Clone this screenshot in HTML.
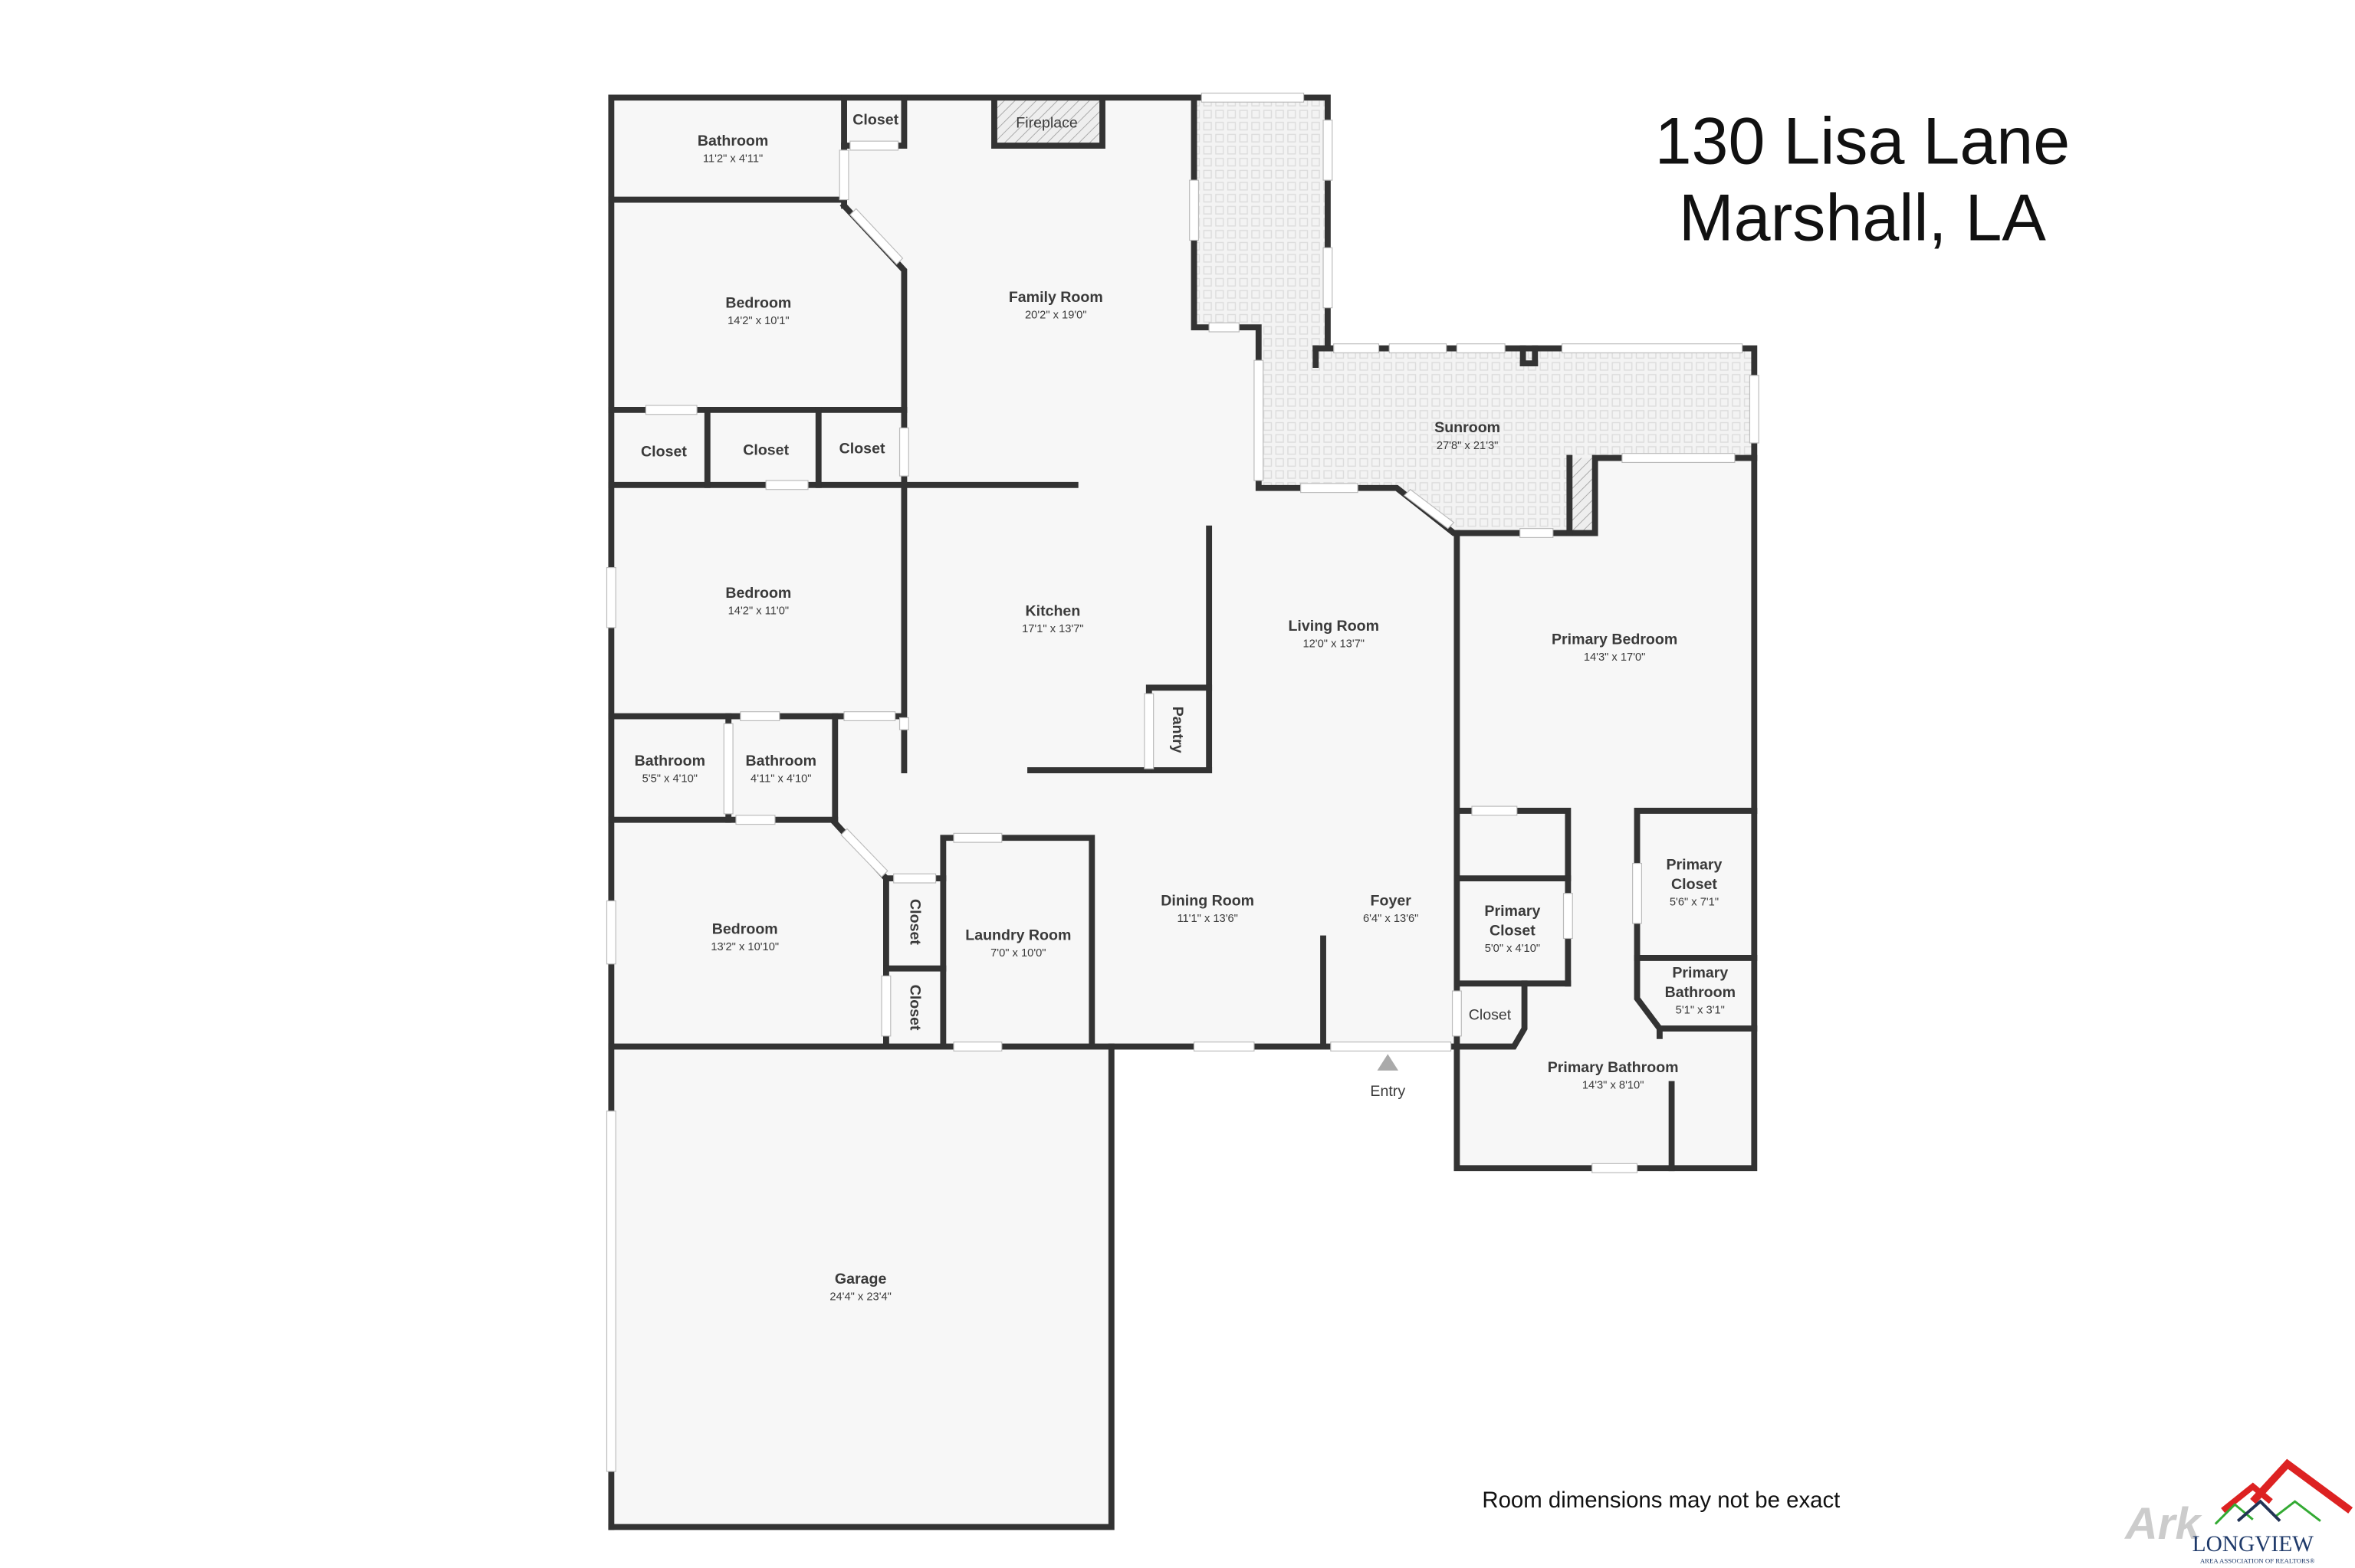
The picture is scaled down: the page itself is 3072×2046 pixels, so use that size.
<!DOCTYPE html>
<html><head><meta charset="utf-8"><style>
html,body{margin:0;padding:0;background:#fff;}
svg{display:block;}
text{font-family:"Liberation Sans",sans-serif;fill:#3a3a3a;text-anchor:middle;}
.n{font-size:10px;font-weight:bold;}
.d{font-size:7.5px;}
</style></head><body>
<svg width="3072" height="2046" viewBox="0 0 1568 1044.3" xmlns="http://www.w3.org/2000/svg">
<defs>
<pattern id="tile" width="8" height="8" patternUnits="userSpaceOnUse">
<rect width="8" height="8" fill="#f3f3f3"/>
<rect x="1.5" y="1.5" width="5" height="5" fill="none" stroke="#dcdcdc" stroke-width="0.7"/>
</pattern>
<pattern id="hatch" width="5" height="5" patternUnits="userSpaceOnUse" patternTransform="rotate(45)">
<rect width="5" height="5" fill="#eee"/><line x1="0" y1="0" x2="0" y2="5" stroke="#aaa" stroke-width="1"/>
</pattern>
</defs>
<rect width="1568" height="1045" fill="#fff"/>
<!-- floors -->
<polygon points="407,65 795,65 795,218 838,218 838,325 930,325 970,355 970,778 1168,778 1168,697 407,697" fill="#f7f7f7"/>
<rect x="970" y="305" width="198" height="473" fill="#f7f7f7"/>
<rect x="407" y="697" width="333" height="320" fill="#f7f7f7"/>
<polygon points="795,65 884,65 884,232 1168,232 1168,305 1062,305 1062,355 968,355 930,325 838,325 838,218 795,218" fill="url(#tile)"/>
<rect x="1045" y="305" width="15" height="48" fill="url(#hatch)"/>
<rect x="662" y="67" width="72" height="30" fill="url(#hatch)"/>

<g stroke="#333" stroke-width="4" fill="none" stroke-linecap="square">
<!-- outer -->
<polyline points="407,65 884,65 884,232"/>
<line x1="407" y1="65" x2="407" y2="1017"/>
<polyline points="407,1017 740,1017 740,697"/>
<polyline points="795,65 795,218 838,218 838,325 930,325 968,355 1062,355 1062,305 1168,305"/>
<polyline points="876,232 1168,232 1168,778 970,778 970,355"/>
<line x1="876" y1="232" x2="876" y2="243"/>
<line x1="1014" y1="232" x2="1014" y2="242"/><line x1="1022" y1="232" x2="1022" y2="242"/><line x1="1014" y1="242" x2="1022" y2="242"/>
<line x1="1045" y1="305" x2="1045" y2="355"/>
<line x1="407" y1="697" x2="970" y2="697"/>
<!-- fireplace -->
<polyline points="662,65 662,97 734,97 734,65"/>
<!-- left rooms -->
<line x1="407" y1="133" x2="562" y2="133"/>
<polyline points="562,65 562,97 602,97 602,65"/>
<line x1="562" y1="97" x2="562" y2="137"/>
<polyline points="562,137 602,180 602,273"/>
<line x1="407" y1="273" x2="602" y2="273"/>
<line x1="602" y1="273" x2="602" y2="323"/>
<line x1="407" y1="323" x2="716" y2="323"/>
<line x1="471" y1="273" x2="471" y2="323"/>
<line x1="545" y1="273" x2="545" y2="323"/>
<line x1="602" y1="323" x2="602" y2="513"/>
<line x1="407" y1="477" x2="600" y2="477"/>
<line x1="485" y1="477" x2="485" y2="546"/>
<line x1="556" y1="477" x2="556" y2="546"/>
<line x1="407" y1="546" x2="556" y2="546"/>
<polyline points="556,548 590,585 590,697"/>
<line x1="590" y1="585" x2="628" y2="585"/>
<line x1="590" y1="645" x2="628" y2="645"/>
<polyline points="628,697 628,558 727,558 727,697"/>
<!-- kitchen -->
<line x1="805" y1="352" x2="805" y2="513"/>
<line x1="686" y1="513" x2="805" y2="513"/>
<polyline points="765,513 765,458 805,458"/>
<line x1="881" y1="625" x2="881" y2="697"/>
<!-- primary -->
<polyline points="970,540 1044,540 1044,585 970,585"/>
<line x1="1044" y1="585" x2="1044" y2="655"/>
<line x1="970" y1="655" x2="1044" y2="655"/>
<polyline points="1015,655 1015,685 1008,697 970,697"/>
<polyline points="1168,540 1090,540 1090,665 1105,685 1105,690"/>
<line x1="1090" y1="638" x2="1168" y2="638"/>
<line x1="1105" y1="685" x2="1168" y2="685"/>
<line x1="1113" y1="722" x2="1113" y2="778"/>
</g>

<!-- openings/windows (white) -->
<g fill="#fff" stroke="#bbb" stroke-width="0.6">
<rect x="800" y="62" width="68" height="6"/>
<rect x="881" y="80" width="6" height="40"/>
<rect x="881" y="165" width="6" height="40"/>
<rect x="792" y="120" width="6" height="40"/>
<rect x="805" y="215" width="20" height="6"/>
<rect x="835" y="240" width="6" height="80"/>
<rect x="888" y="229" width="30" height="6"/>
<rect x="925" y="229" width="38" height="6"/>
<rect x="970" y="229" width="32" height="6"/>
<rect x="1040" y="229" width="120" height="6"/>
<rect x="1165" y="250" width="6" height="45"/>
<rect x="1080" y="302" width="75" height="6"/>
<rect x="866" y="322" width="38" height="6"/>
<rect x="1012" y="352" width="22" height="6"/>
<rect x="566" y="94" width="32" height="6"/>
<rect x="559" y="100" width="6" height="33"/>
<rect x="404" y="378" width="6" height="40"/>
<rect x="404" y="600" width="6" height="42"/>
<rect x="404" y="740" width="6" height="240"/>
<rect x="430" y="270" width="34" height="6"/>
<rect x="510" y="320" width="28" height="6"/>
<rect x="599" y="285" width="6" height="32"/>
<rect x="493" y="474" width="26" height="6"/>
<rect x="562" y="474" width="34" height="6"/>
<rect x="482" y="482" width="6" height="60"/>
<rect x="490" y="543" width="26" height="6"/>
<rect x="599" y="478" width="6" height="8"/>
<rect x="595" y="582" width="28" height="6"/>
<rect x="587" y="650" width="6" height="40"/>
<rect x="635" y="694" width="32" height="6"/>
<rect x="635" y="555" width="32" height="6"/>
<rect x="795" y="694" width="40" height="6"/>
<rect x="886" y="694" width="80" height="6"/>
<rect x="762" y="462" width="6" height="50"/>
<rect x="980" y="537" width="30" height="6"/>
<rect x="1041" y="595" width="6" height="30"/>
<rect x="967" y="660" width="6" height="30"/>
<rect x="1087" y="575" width="6" height="40"/>
<rect x="1060" y="775" width="30" height="6"/>
<polygon points="566,143 597,176 601,172 570,139"/>
<polygon points="560,556 587,584 591,580 564,552"/>
<polygon points="935,330 964,352 968,348 939,326"/>
</g>
<polygon points="917,713 924,702 931,713" fill="#aaa"/>

<!-- labels -->
<text class="n" x="488" y="97">Bathroom</text><text class="d" x="488" y="108">11'2" x 4'11"</text>
<text class="n" x="583" y="83">Closet</text>
<text class="n" x="697" y="85" style="font-weight:normal;font-size:10px">Fireplace</text>
<text class="n" x="703" y="201">Family Room</text><text class="d" x="703" y="212">20'2" x 19'0"</text>
<text class="n" x="505" y="205">Bedroom</text><text class="d" x="505" y="216">14'2" x 10'1"</text>
<text class="n" x="442" y="304">Closet</text>
<text class="n" x="510" y="303">Closet</text>
<text class="n" x="574" y="302">Closet</text>
<text class="n" x="977" y="288">Sunroom</text><text class="d" x="977" y="299">27'8" x 21'3"</text>
<text class="n" x="505" y="398">Bedroom</text><text class="d" x="505" y="409">14'2" x 11'0"</text>
<text class="n" x="701" y="410">Kitchen</text><text class="d" x="701" y="421">17'1" x 13'7"</text>
<text class="n" x="888" y="420">Living Room</text><text class="d" x="888" y="431">12'0" x 13'7"</text>
<text class="n" x="1075" y="429">Primary Bedroom</text><text class="d" x="1075" y="440">14'3" x 17'0"</text>
<text class="n" transform="translate(781,486) rotate(90)">Pantry</text>
<text class="n" x="446" y="510">Bathroom</text><text class="d" x="446" y="521">5'5" x 4'10"</text>
<text class="n" x="520" y="510">Bathroom</text><text class="d" x="520" y="521">4'11" x 4'10"</text>
<text class="n" x="496" y="622">Bedroom</text><text class="d" x="496" y="633">13'2" x 10'10"</text>
<text class="n" transform="translate(606,614) rotate(90)">Closet</text>
<text class="n" transform="translate(606,671) rotate(90)">Closet</text>
<text class="n" x="678" y="626">Laundry Room</text><text class="d" x="678" y="637">7'0" x 10'0"</text>
<text class="n" x="804" y="603">Dining Room</text><text class="d" x="804" y="614">11'1" x 13'6"</text>
<text class="n" x="926" y="603">Foyer</text><text class="d" x="926" y="614">6'4" x 13'6"</text>
<text class="n" x="1007" y="610">Primary</text><text class="n" x="1007" y="623">Closet</text><text class="d" x="1007" y="634">5'0" x 4'10"</text>
<text class="n" x="1128" y="579">Primary</text><text class="n" x="1128" y="592">Closet</text><text class="d" x="1128" y="603">5'6" x 7'1"</text>
<text class="n" x="1132" y="651">Primary</text><text class="n" x="1132" y="664">Bathroom</text><text class="d" x="1132" y="675">5'1" x 3'1"</text>
<text class="n" x="992" y="679" style="font-weight:normal">Closet</text>
<text class="n" x="1074" y="714">Primary Bathroom</text><text class="d" x="1074" y="725">14'3" x 8'10"</text>
<text class="n" x="924" y="730" style="font-weight:normal">Entry</text>
<text class="n" x="573" y="855">Garage</text><text class="d" x="573" y="866">24'4" x 23'4"</text>

<text x="1240" y="109" style="font-size:44px;fill:#111">130 Lisa Lane</text>
<text x="1240" y="160" style="font-size:44px;fill:#111">Marshall, LA</text>
<text x="1106" y="1004" style="font-size:15px;fill:#111">Room dimensions may not be exact</text>

<!-- logo -->
<g>
<polyline points="1500,1000 1523,975 1565,1006" fill="none" stroke="#d22" stroke-width="5"/>
<polyline points="1480,1006 1500,990 1512,1000" fill="none" stroke="#d22" stroke-width="4"/>
<text x="1440" y="1025" style="font-size:30px;font-style:italic;font-weight:bold;fill:#ccc">Ark</text>
<polyline points="1475,1015 1488,1002 1500,1012" fill="none" stroke="#3a3" stroke-width="1.5"/>
<polyline points="1515,1010 1528,1000 1545,1013" fill="none" stroke="#3a3" stroke-width="1.5"/>
<polyline points="1490,1013 1505,1000 1518,1013" fill="none" stroke="#235" stroke-width="2"/>
<text x="1500" y="1033" style="font-size:15px;font-family:'Liberation Serif',serif;fill:#1f3a6a">LONGVIEW</text>
<text x="1503" y="1041" style="font-size:4.5px;font-family:'Liberation Serif',serif;fill:#1f3a6a">AREA ASSOCIATION OF REALTORS®</text>
</g>
</svg>
</body></html>
